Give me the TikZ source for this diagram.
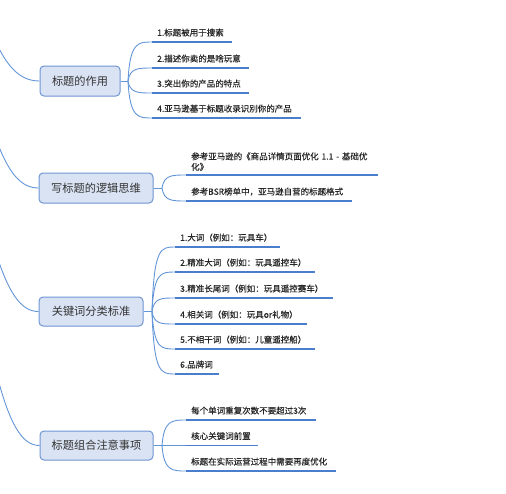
\documentclass[tikz,border=0pt]{standalone}
\usepackage{fontspec}
\newfontfamily\cjk{Noto Sans CJK SC}
\newfontfamily\cjkc[FakeBold=0.3]{Noto Sans CJK SC}
\definecolor{brline}{HTML}{6396D8}
\definecolor{uline}{HTML}{4A7DCB}
\definecolor{boxline}{HTML}{6F95D3}
\definecolor{boxfill}{HTML}{DAE3F3}
\definecolor{txt}{HTML}{262626}
\definecolor{boxtxt}{HTML}{333333}
\begin{document}
\begin{tikzpicture}[x=1pt,y=-1pt,
  mainbox/.style={draw=boxline, fill=boxfill, rounded corners=4pt, line width=1pt,
    font=\cjk\fontsize{11.2}{13}\selectfont, text=boxtxt, minimum height=30pt, inner sep=0pt},
  child/.style={anchor=south west, inner xsep=5pt, inner ysep=4.5pt, align=left,
    font=\cjkc\fontsize{8.5}{10.5}\selectfont, text=txt},
  one/.style={child, text height=7pt, text depth=1.5pt},
  conn/.style={draw=brline, line width=0.9pt},
  underl/.style={draw=uline, line width=1.5pt}]
\useasboundingbox (0,0) rectangle (506,493);
\clip (0,0) rectangle (506,493);

% main boxes
\node[mainbox, minimum width=80pt] (b1) at (80,81) {标题的作用};
\node[mainbox, minimum width=114pt] (b2) at (96,188) {写标题的逻辑思维};
\node[mainbox, minimum width=104pt, minimum height=29pt] (b3) at (91,311.5) {关键词分类标准};
\node[mainbox, minimum width=113pt, minimum height=29pt] (b4) at (96.5,445.5) {标题组合注意事项};

% root curves from the left
\coordinate (r1) at (-6,38);
\coordinate (r2) at (-6,133);
\coordinate (r3) at (-8,240);
\coordinate (r4) at (-8,355);
\draw[conn] (r1) .. controls (8,70) and (22,81) .. (b1.west);
\draw[conn] (r2) .. controls (8,175) and (22,188) .. (b2.west);
\draw[conn] (r3) .. controls (8,296) and (22,311.5) .. (b3.west);
\draw[conn] (r4) .. controls (8,425) and (22,445.5) .. (b4.west);

% branch points
\coordinate (p1) at (128,81);
\coordinate (p2) at (162,188);
\coordinate (p3) at (152,311.5);
\coordinate (p4) at (162,445.5);
\draw[conn] (b1.east) -- (p1);
\draw[conn] (b2.east) -- (p2);
\draw[conn] (b3.east) -- (p3);
\draw[conn] (b4.east) -- (p4);

% children of box 1
\node[one, text width=70pt] (c11) at (152,42) {1.标题被用于搜索};
\node[one, text width=87pt] (c12) at (152,68) {2.描述你卖的是啥玩意};
\node[one, text width=87pt] (c13) at (152,93) {3.突出你的产品的特点};
\node[one, text width=139pt] (c14) at (152,118) {4.亚马逊基于标题收录识别你的产品};
% children of box 2
\node[child, text width=182pt, inner ysep=4pt] (c21) at (186,175) {参考亚马逊的《商品详情页面优化 1.1 - 基础优\\化》};
\node[one, text width=156pt] (c22) at (186,201) {参考BSR榜单中，亚马逊自营的标题格式};
% children of box 3
\node[one, text width=95pt] (c31) at (175,247) {1.大词（例如：玩具车）};
\node[one, text width=130pt] (c32) at (175,272) {2.精准大词（例如：玩具遥控车）};
\node[one, text width=148pt] (c33) at (175,298) {3.精准长尾词（例如：玩具遥控赛车）};
\node[one, text width=122pt] (c34) at (175,324) {4.相关词（例如：玩具or礼物）};
\node[one, text width=130pt] (c35) at (175,349) {5.不相干词（例如：儿童遥控船）};
\node[one, text width=34pt] (c36) at (175,374) {6.品牌词};
% children of box 4
\node[one, text width=120pt] (c41) at (186,420) {每个单词重复次数不要超过3次};
\node[one, text width=62pt] (c42) at (186,445.5) {核心关键词前置};
\node[one, text width=140pt] (c43) at (186,471) {标题在实际运营过程中需要再度优化};

% underlines
\foreach \c in {c11,c12,c13,c14,c21,c22,c31,c32,c33,c34,c35,c36,c41,c42,c43}
  \draw[underl] (\c.south west) -- (\c.south east);

% branch curves
\foreach \c in {c11,c12,c13,c14}
  \draw[conn] (p1) .. controls ([xshift=-22pt]\c.south west) and ([xshift=-14pt]\c.south west) .. (\c.south west);
\foreach \c in {c21,c22}
  \draw[conn] (p2) .. controls ([xshift=-22pt]\c.south west) and ([xshift=-14pt]\c.south west) .. (\c.south west);
\foreach \c in {c31,c32,c33,c34,c35,c36}
  \draw[conn] (p3) .. controls ([xshift=-21pt]\c.south west) and ([xshift=-14pt]\c.south west) .. (\c.south west);
\foreach \c in {c41,c42,c43}
  \draw[conn] (p4) .. controls ([xshift=-22pt]\c.south west) and ([xshift=-14pt]\c.south west) .. (\c.south west);
\end{tikzpicture}
\end{document}
